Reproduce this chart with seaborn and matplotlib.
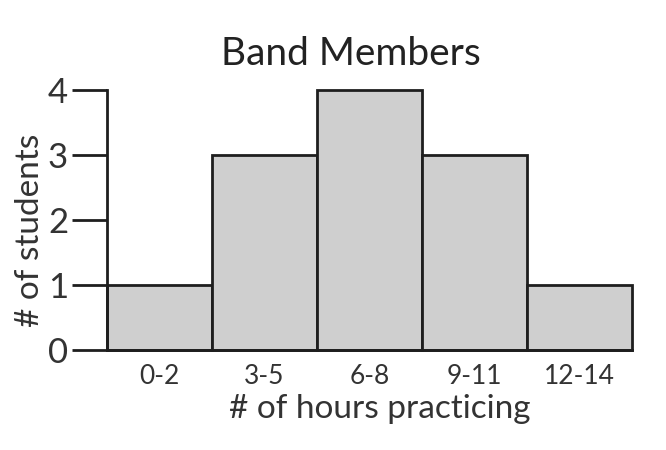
import matplotlib
matplotlib.use("Agg")
import matplotlib.pyplot as plt
import seaborn as sns

# data
hour_bins = ["0-2", "3-5", "6-8", "9-11", "12-14"]
students = [1, 3, 4, 3, 1]
y_ticks = [0, 1, 2, 3, 4]

sns.set_style("white")
plt.rcParams["font.family"] = ["Lato", "DejaVu Sans"]
ink = "#1e1e1e"

fig = plt.figure(figsize=(6.66, 4.5), dpi=100)
ax = fig.add_axes([107 / 666, 1 - 350 / 450, (632 - 107) / 666, 260 / 450])

sns.barplot(x=hour_bins, y=students, width=1, color="#cfcfcf", saturation=1,
            edgecolor=ink, linewidth=2, ax=ax)
for p in ax.patches:
    p.set_clip_on(False)

ax.set_xlim(-0.5, 4.5)
ax.set_ylim(0, 4)
ax.set_yticks(y_ticks)
ax.set_yticklabels([str(v) for v in y_ticks], fontsize=25, color="#333333")
ax.tick_params(axis="y", length=25, width=2, color=ink, pad=3, left=True)
ax.tick_params(axis="x", length=0, labelsize=19, labelcolor="#333333", pad=10)

sns.despine(ax=ax)
for s in ["left", "bottom"]:
    ax.spines[s].set_linewidth(2)
    ax.spines[s].set_color(ink)

ax.set_xlabel("# of hours practicing", fontsize=24, color="#333333", labelpad=4, x=0.52)
ax.set_ylabel("# of students", fontsize=24, color="#333333", labelpad=2, y=0.46)
ax.set_title("Band Members", fontsize=28, color="#222222", pad=18, x=0.465)

fig.savefig("out.png", dpi=100)
